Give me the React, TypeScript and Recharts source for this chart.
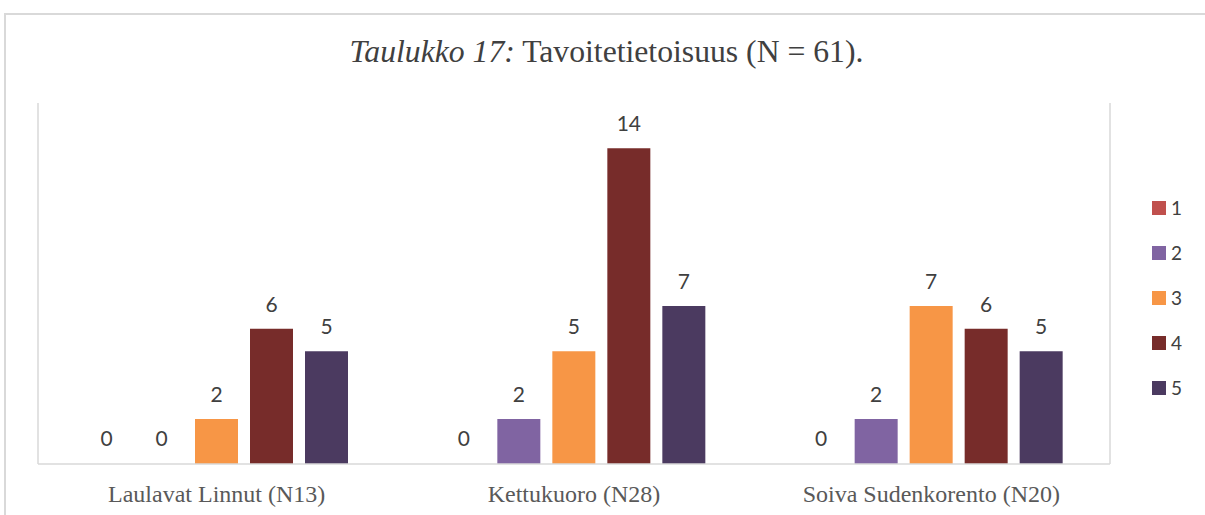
import React from "react";
import { BarChart, Bar, XAxis, YAxis, CartesianGrid, Legend, LabelList, Rectangle } from "recharts";

const categories = ["Laulavat Linnut (N13)", "Kettukuoro (N28)", "Soiva Sudenkorento (N20)"];
const seriesNames = ["1", "2", "3", "4", "5"];
const s1 = [0, 0, 0];
const s2 = [0, 2, 2];
const s3 = [2, 5, 7];
const s4 = [6, 14, 6];
const s5 = [5, 7, 5];
const seriesValues = [s1, s2, s3, s4, s5];
const seriesColors = ["#C0504D", "#8064A2", "#F79646", "#772C2A", "#4B3A60"];
const gridTicks = [0, 1, 2, 3];
const yDomain = [0, 16];

const data = categories.map((name, i) => {
  const row: Record<string, string | number> = { name };
  seriesNames.forEach((s, k) => {
    row["s" + s] = seriesValues[k][i];
  });
  return row;
});

const LEGEND_W = 60;

const renderLegend = (props: any) => {
  const payload = props.payload || [];
  return (
    <div style={{ width: LEGEND_W }}>
      {payload.map((p: any, i: number) => (
        <div
          key={i}
          style={{ display: "flex", alignItems: "center", height: 14, marginBottom: 31 }}
        >
          <div style={{ width: 14, height: 14, background: p.color }} />
          <span
            style={{
              marginLeft: 5,
              fontFamily: "Lato, 'Open Sans', sans-serif",
              fontSize: 19,
              color: "#404040",
              lineHeight: "14px",
            }}
          >
            {p.value}
          </span>
        </div>
      ))}
    </div>
  );
};

const makeShape = (key: string) => (props: any) => {
  const v = props.payload ? props.payload[key] : props.value;
  if (v === 0) return <g />;
  return <Rectangle {...props} />;
};

export default function App() {
  return (
    <div
      style={{
        position: "absolute",
        left: 0,
        top: 0,
        width: 1205,
        height: 515,
        overflow: "hidden",
        background: "#fff",
      }}
    >
      <div
        style={{
          position: "absolute",
          left: 4,
          top: 13,
          width: 1300,
          height: 600,
          borderTop: "2px solid #d9d9d9",
          borderLeft: "2px solid #d9d9d9",
          boxSizing: "border-box",
        }}
      />
      <div
        style={{
          position: "absolute",
          left: 4,
          width: 1205,
          top: 36,
          textAlign: "center",
          fontFamily: "'Liberation Serif', 'Times New Roman', serif",
          fontSize: 31.7,
          lineHeight: "31px",
          color: "#404040",
        }}
      >
        <i>Taulukko 17:</i> Tavoitetietoisuus (N = 61).
      </div>
      <div style={{ position: "absolute", left: 0, top: 0 }}>
        <BarChart
          width={1205}
          height={515}
          data={data}
          margin={{ top: 103, left: 38, right: 95 - LEGEND_W, bottom: 0 }}
          barCategoryGap={47}
          barGap={12}
        >
          <CartesianGrid xAxisId="grid" vertical horizontal={false} stroke="#d9d9d9" strokeWidth={1.5} />
          <XAxis
            xAxisId="grid"
            type="number"
            domain={[0, 3]}
            ticks={gridTicks}
            allowDataOverflow
            tick={false}
            tickSize={7}
            tickLine={{ stroke: "#d9d9d9", strokeWidth: 1.5 }}
            axisLine={false}
            height={0}
          />
          <XAxis
            xAxisId="cat"
            dataKey="name"
            type="category"
            height={51}
            tickLine={false}
            tickSize={0}
            tickMargin={21}
            axisLine={{ stroke: "#d9d9d9", strokeWidth: 1.5 }}
            tick={{
              fontFamily: "'Liberation Serif', 'Times New Roman', serif",
              fontSize: 24,
              fill: "#595959",
            }}
            interval={0}
          />
          <YAxis hide domain={yDomain} />
          <Legend
            layout="vertical"
            align="right"
            verticalAlign="middle"
            content={renderLegend}
            wrapperStyle={{ left: 1152, top: 201, width: LEGEND_W }}
          />
          {seriesNames.map((s, k) => (
            <Bar
              key={s}
              xAxisId="cat"
              dataKey={"s" + s}
              name={s}
              fill={seriesColors[k]}
              minPointSize={1}
              shape={makeShape("s" + s)}
              isAnimationActive={false}
            >
              <LabelList
                dataKey={"s" + s}
                position="top"
                offset={17}
                style={{
                  fontFamily: "Lato, 'Open Sans', sans-serif",
                  fontSize: 21,
                  fill: "#404040",
                }}
              />
            </Bar>
          ))}
        </BarChart>
      </div>
    </div>
  );
}
